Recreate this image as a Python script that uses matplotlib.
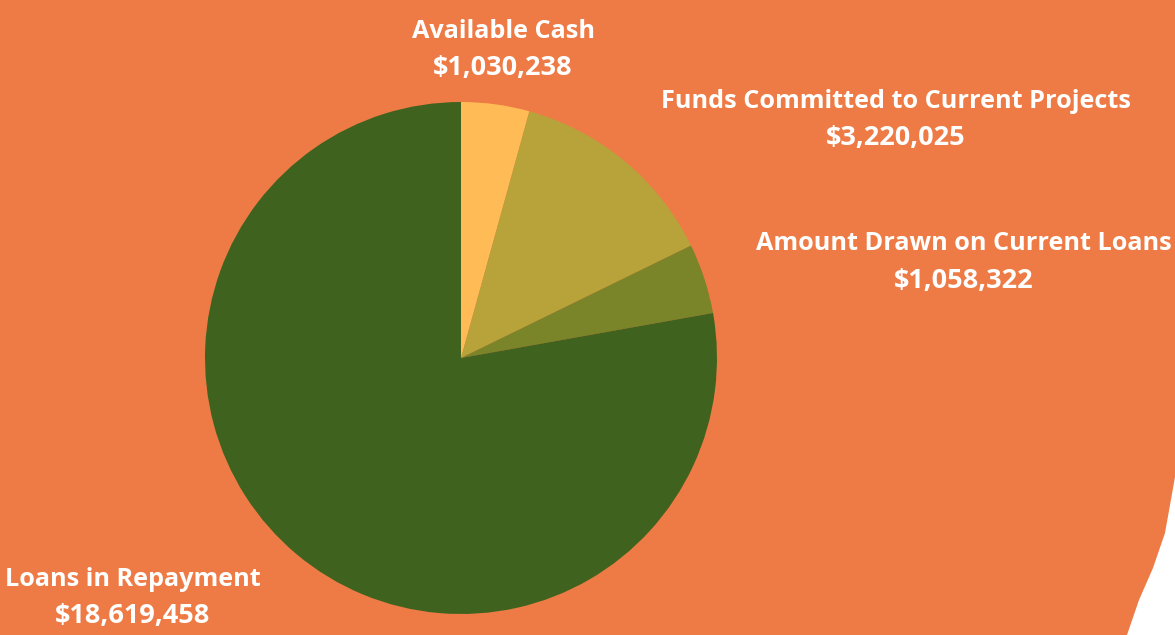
import matplotlib
matplotlib.use("Agg")
import matplotlib.pyplot as plt
from matplotlib.patches import Polygon

categories = ["Available Cash", "Funds Committed to Current Projects",
              "Amount Drawn on Current Loans", "Loans in Repayment"]
values = [1030238, 3220025, 1058322, 18619458]
value_labels = ["$1,030,238", "$3,220,025", "$1,058,322", "$18,619,458"]
colors = ["#FFBB55", "#B8A23A", "#7A8428", "#3F631E"]

W, H = 1175, 635
BG = "#EE7B45"
fig = plt.figure(figsize=(W / 100, H / 100), dpi=100)
fig.patch.set_facecolor(BG)
ax = fig.add_axes([0, 0, 1, 1])
ax.set_xlim(0, W)
ax.set_ylim(0, H)
ax.set_aspect("equal")
ax.axis("off")

# white decorative curve, bottom right
curve = [(1175, H - 477), (1170, H - 505), (1165, H - 533), (1153, H - 568),
         (1139, H - 600), (1127, H - 635), (1175, H - 635)]
ax.add_patch(Polygon(curve, closed=True, facecolor="white", edgecolor="none", zorder=0))

ax.pie(values, colors=colors, startangle=90, counterclock=False,
       center=(461, H - 358), radius=256, frame=True,
       wedgeprops=dict(linewidth=0))
ax.set_xlim(0, W)
ax.set_ylim(0, H)
ax.axis("off")

label_pos = [(503, 31, 68), (896, 101, 138), (964, 244, 281), (133, 580, 616)]
for cat, val, (x, y1, y2) in zip(categories, value_labels, label_pos):
    ax.text(x, H - y1, cat, ha="center", va="center", color="white",
            fontsize=18.2, fontweight="bold", family="Open Sans")
    ax.text(x, H - y2, val, ha="center", va="center", color="white",
            fontsize=19.5, fontweight="bold", family="Open Sans")

fig.savefig("out.png", dpi=100, facecolor=BG)
